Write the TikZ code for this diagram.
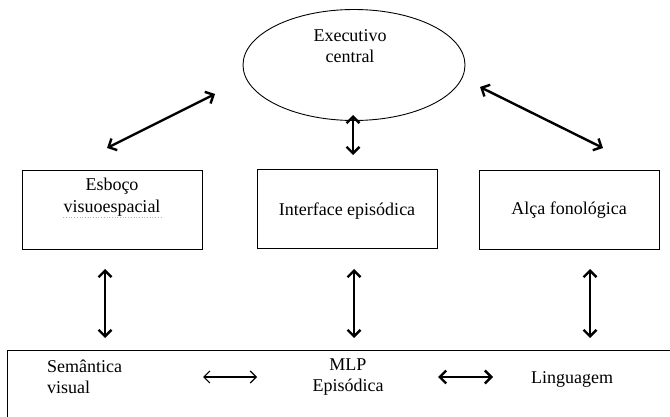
\documentclass[tikz,border=0pt]{standalone}
\usepackage{fontspec}
\setmainfont{Liberation Serif}
\usetikzlibrary{arrows.meta,shapes.geometric}
\tikzset{
  box/.style={draw, line width=0.9pt, minimum width=180pt, minimum height=79pt, inner sep=0pt},
  lbl/.style={align=center, inner sep=0pt, font=\fontsize{18}{21.5}\selectfont},
  thickarr/.style={line width=2.4pt, {Straight Barb[length=6.5pt,width=13pt]}-{Straight Barb[length=6.5pt,width=13pt]}},
  thinarr/.style={line width=1.2pt, {Straight Barb[length=6pt,width=12pt]}-{Straight Barb[length=6pt,width=12pt]}},
}
\begin{document}
\begin{tikzpicture}[x=1pt,y=-1pt]
\clip (0,0) rectangle (670,417);
\fill[white] (0,0) rectangle (670,417);
% ellipse
\node[draw, ellipse, line width=0.9pt, minimum width=222pt, minimum height=111pt, inner sep=0pt] (exec) at (354,65) {};
\node[lbl] (exect) at (350,46) {Executivo\\central};
% boxes
\node[box] (esb) at (112,209.5) {};
\node[box] (inter) at (347,209) {};
\node[box] (alca) at (569,210) {};
\node[lbl] (esbt) at (112,197) {Esboço\\visuoespacial};
\coordinate (sq) at ([yshift=-1.5pt]esbt.south west);
\draw[gray!60, line width=0.7pt, dotted] (sq) -- ++(98,0);
\node[lbl] (intert) at (347,211) {Interface episódica};
\node[lbl] (alcat) at (569,210) {Alça fonológica};
% bottom box
\draw[line width=0.9pt] (7,430) -- (7,350) -- (690,350);
\node[lbl, anchor=west, align=left] (sem) at (47,377) {Semântica\\visual};
\node[lbl] (mlp) at (348,377) {MLP\\Episódica};
\node[lbl] (ling) at (572,379) {Linguagem};
% arrow end points
\coordinate (a1) at (107,148); \coordinate (a2) at (215,94);
\coordinate (b1) at (480,87); \coordinate (b2) at (603,148);
\coordinate (c1) at (353,115); \coordinate (c2) at (353,155);
\coordinate (d1) at (105,269); \coordinate (d2) at (105,338);
\coordinate (e1) at (354,269); \coordinate (e2) at (354,338);
\coordinate (f1) at (590,269); \coordinate (f2) at (590,338);
\coordinate (g1) at (203,377); \coordinate (g2) at (257,377);
\coordinate (h1) at (438,377); \coordinate (h2) at (493,377);
\draw[thickarr] (a1) -- (a2);
\draw[thickarr] (b1) -- (b2);
\draw[thickarr] (c1) -- (c2);
\draw[thickarr] (d1) -- (d2);
\draw[thickarr] (e1) -- (e2);
\draw[thickarr] (f1) -- (f2);
\draw[thinarr] (g1) -- (g2);
\draw[thickarr] (h1) -- (h2);
\end{tikzpicture}
\end{document}
